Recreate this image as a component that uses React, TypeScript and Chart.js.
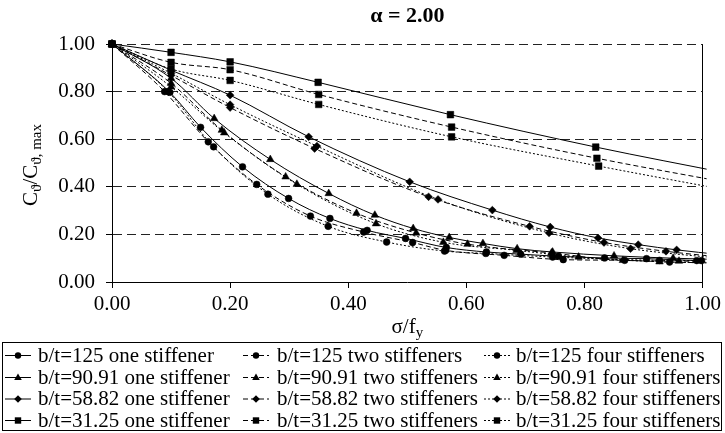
import React, { useEffect, useRef } from "react";
import { Chart, registerables } from "chart.js";

Chart.register(...registerables);

const FONT = '"Liberation Serif", "DejaVu Serif", "Times New Roman", serif';

const titleText = "α = 2.00";
const xMin = 0;
const xMax = 1;
const yMin = 0;
const yMax = 1;
const tickStep = 0.2;

// b/t = 125 (circles)
const x125One = [0, 0.098, 0.15, 0.221, 0.299, 0.369, 0.432, 0.497, 0.566, 0.634, 0.692, 0.756, 0.834, 0.905, 0.99];
const y125One = [1, 0.797, 0.65, 0.484, 0.351, 0.267, 0.217, 0.183, 0.145, 0.126, 0.117, 0.108, 0.101, 0.098, 0.09];
const x125Two = [0, 0.089, 0.163, 0.245, 0.336, 0.426, 0.509, 0.565, 0.664, 0.764, 0.868, 0.944, 1.02];
const y125Two = [1, 0.8, 0.589, 0.41, 0.277, 0.21, 0.166, 0.133, 0.112, 0.094, 0.091, 0.084, 0.08];
const x125Four = [0, 0.095, 0.172, 0.264, 0.366, 0.465, 0.563, 0.633, 0.746, 0.927, 0.998];
const y125Four = [1, 0.8, 0.568, 0.369, 0.234, 0.168, 0.13, 0.12, 0.105, 0.091, 0.09];

// b/t = 90.91 (triangles)
const x9091One = [0, 0.1, 0.173, 0.268, 0.367, 0.445, 0.51, 0.571, 0.628, 0.686, 0.746, 0.85, 0.95, 1.02];
const y9091One = [1, 0.856, 0.687, 0.515, 0.372, 0.281, 0.225, 0.187, 0.162, 0.14, 0.126, 0.11, 0.1, 0.095];
const x9091Two = [0, 0.1, 0.186, 0.294, 0.414, 0.515, 0.602, 0.744, 0.865, 0.96, 1.02];
const y9091Two = [1, 0.835, 0.638, 0.442, 0.289, 0.206, 0.159, 0.122, 0.091, 0.088, 0.085];
const x9091Four = [0, 0.1, 0.19, 0.313, 0.447, 0.561, 0.685, 0.79, 0.927, 1.02];
const y9091Four = [1, 0.82, 0.627, 0.411, 0.245, 0.167, 0.133, 0.105, 0.085, 0.08];

// b/t = 58.82 (diamonds)
const x5882One = [0, 0.1, 0.2, 0.333, 0.504, 0.644, 0.742, 0.823, 0.891, 0.956, 1.03];
const y5882One = [1, 0.89, 0.785, 0.61, 0.421, 0.302, 0.231, 0.185, 0.157, 0.135, 0.115];
const x5882Two = [0, 0.1, 0.2, 0.343, 0.536, 0.707, 0.833, 0.938, 1.05];
const y5882Two = [1, 0.868, 0.733, 0.561, 0.358, 0.234, 0.166, 0.129, 0.1];
const x5882Four = [0, 0.1, 0.2, 0.347, 0.552, 0.74, 0.878, 1.05];
const y5882Four = [1, 0.877, 0.745, 0.571, 0.347, 0.206, 0.14, 0.095];

// b/t = 31.25 (squares)
const x3125One = [0, 0.1, 0.2, 0.349, 0.573, 0.819, 1.05];
const y3125One = [1, 0.965, 0.925, 0.839, 0.703, 0.567, 0.453];
const x3125Two = [0, 0.1, 0.2, 0.35, 0.575, 0.821, 1.05];
const y3125Two = [1, 0.923, 0.892, 0.788, 0.651, 0.52, 0.414];
const x3125Four = [0, 0.1, 0.2, 0.35, 0.575, 0.824, 1.05];
const y3125Four = [1, 0.895, 0.847, 0.746, 0.61, 0.487, 0.382];

const seriesLabels = [
  "b/t=125 one stiffener", "b/t=125 two stiffeners", "b/t=125 four stiffeners",
  "b/t=90.91 one stiffener", "b/t=90.91 two stiffeners", "b/t=90.91 four stiffeners",
  "b/t=58.82 one stiffener", "b/t=58.82 two stiffeners", "b/t=58.82 four stiffeners",
  "b/t=31.25 one stiffener", "b/t=31.25 two stiffeners", "b/t=31.25 four stiffeners",
];
const seriesX = [x125One, x125Two, x125Four, x9091One, x9091Two, x9091Four, x5882One, x5882Two, x5882Four, x3125One, x3125Two, x3125Four];
const seriesY = [y125One, y125Two, y125Four, y9091One, y9091Two, y9091Four, y5882One, y5882Two, y5882Four, y3125One, y3125Two, y3125Four];

const markerStyles = ["circle", "triangle", "rectRot", "rect"];
const markerRadii = [3.4, 4.4, 3.9, 4.7];
const dashStyles: number[][] = [[], [5, 3], [2, 2]];

const yLabelParts = [
  { t: "C", sub: false },
  { t: "ϑ", sub: true },
  { t: "/C", sub: false },
  { t: "ϑ, max", sub: true },
];
const xLabelParts = [
  { t: "σ/f", sub: false },
  { t: "y", sub: true },
];

function drawRich(ctx: CanvasRenderingContext2D, parts: { t: string; sub: boolean }[], cx: number, cy: number, rot: number, size: number) {
  const big = `${size}px ${FONT}`;
  const small = `${Math.round(size * 0.7)}px ${FONT}`;
  let total = 0;
  const widths = parts.map((p) => {
    ctx.font = p.sub ? small : big;
    const w = ctx.measureText(p.t).width;
    total += w;
    return w;
  });
  ctx.save();
  ctx.translate(cx, cy);
  ctx.rotate(rot);
  ctx.textAlign = "left";
  ctx.textBaseline = "alphabetic";
  let x = -total / 2;
  parts.forEach((p, i) => {
    ctx.font = p.sub ? small : big;
    ctx.fillText(p.t, x, p.sub ? 11 : 7);
    x += widths[i];
  });
  ctx.restore();
}

function drawMarker(ctx: CanvasRenderingContext2D, style: string, x: number, y: number) {
  ctx.beginPath();
  if (style === "circle") {
    ctx.arc(x, y, 3.2, 0, Math.PI * 2);
  } else if (style === "triangle") {
    ctx.moveTo(x, y - 4);
    ctx.lineTo(x + 3.8, y + 2.6);
    ctx.lineTo(x - 3.8, y + 2.6);
    ctx.closePath();
  } else if (style === "rectRot") {
    ctx.moveTo(x, y - 3.8);
    ctx.lineTo(x + 3.8, y);
    ctx.lineTo(x, y + 3.8);
    ctx.lineTo(x - 3.8, y);
    ctx.closePath();
  } else {
    ctx.rect(x - 3.2, y - 3.2, 6.4, 6.4);
  }
  ctx.fill();
}

const legendColSample = [5, 243, 484];
const legendColText = [38, 277, 516];
const legendRowY = [355, 377, 398.5, 420];

const decorPlugin = {
  id: "decor",
  afterDraw(chart: any) {
    const { ctx, chartArea } = chart;
    const cx = (chartArea.left + chartArea.right) / 2;
    ctx.save();
    ctx.fillStyle = "#000";
    ctx.strokeStyle = "#000";
    // title
    ctx.font = `bold 22px ${FONT}`;
    ctx.textAlign = "center";
    ctx.textBaseline = "middle";
    ctx.fillText(titleText, cx, 16);
    // axis titles
    drawRich(ctx, yLabelParts, 30, (chartArea.top + chartArea.bottom) / 2 + 2, -Math.PI / 2, 21);
    drawRich(ctx, xLabelParts, cx, 326, 0, 21);
    // legend box
    ctx.lineWidth = 1;
    ctx.setLineDash([]);
    ctx.strokeRect(2.5, 342.5, 719, 88);
    ctx.font = `21px ${FONT}`;
    ctx.textAlign = "left";
    ctx.textBaseline = "middle";
    for (let i = 0; i < seriesLabels.length; i++) {
      const row = Math.floor(i / 3);
      const col = i % 3;
      const y = legendRowY[row];
      const sx = legendColSample[col];
      ctx.setLineDash(dashStyles[col]);
      ctx.beginPath();
      ctx.moveTo(sx, y + 0.5);
      ctx.lineTo(sx + 26, y + 0.5);
      ctx.stroke();
      ctx.setLineDash([]);
      drawMarker(ctx, markerStyles[row], sx + 13, y + 0.5);
      ctx.fillText(seriesLabels[i], legendColText[col], y + 1);
    }
    ctx.restore();
  },
};

export default function App() {
  const ref = useRef<HTMLCanvasElement>(null);
  useEffect(() => {
    const datasets = seriesLabels.map((label, i) => {
      const row = Math.floor(i / 3);
      const col = i % 3;
      return {
        label,
        data: seriesX[i].map((x, j) => ({ x, y: seriesY[i][j] })),
        showLine: true,
        borderColor: "#000",
        backgroundColor: "#000",
        borderWidth: 1,
        borderDash: dashStyles[col],
        pointStyle: markerStyles[row],
        pointRadius: markerRadii[row],
        pointBackgroundColor: "#000",
        pointBorderColor: "#000",
        pointBorderWidth: 0.5,
        cubicInterpolationMode: "monotone",
        clip: { left: 6, top: 6, right: 4, bottom: 6 },
      };
    });
    const chart = new Chart(ref.current as HTMLCanvasElement, {
      type: "scatter",
      data: { datasets } as any,
      plugins: [decorPlugin as any],
      options: {
        responsive: false,
        animation: false,
        devicePixelRatio: 1,
        layout: { padding: { top: 44, left: 0, right: 22, bottom: 0 } },
        plugins: {
          legend: { display: false },
          title: { display: false },
          tooltip: { enabled: false },
        },
        scales: {
          x: {
            type: "linear",
            min: xMin,
            max: xMax,
            afterFit: (s: any) => { s.height = 151; },
            ticks: {
              stepSize: tickStep,
              color: "#000",
              padding: 4,
              font: { family: FONT, size: 21 },
              callback: (v: any) => Number(v).toFixed(2),
            },
            grid: {
              color: (c: any) => (c.tick && Math.abs(c.tick.value - 1) < 1e-6 ? "#000" : "rgba(0,0,0,0)"),
              tickColor: "#000",
              tickLength: 6,
              lineWidth: 1,
            },
            border: { display: true, color: "#000", width: 1 },
          },
          y: {
            type: "linear",
            min: yMin,
            max: yMax,
            afterFit: (s: any) => { s.width = 112; },
            ticks: {
              stepSize: tickStep,
              color: "#000",
              padding: 11,
              font: { family: FONT, size: 21 },
              callback: (v: any) => Number(v).toFixed(2),
            },
            grid: {
              color: (c: any) => (c.tick && c.tick.value === 0 ? "rgba(0,0,0,0)" : "#222"),
              tickColor: "#000",
              tickLength: 6,
              lineWidth: 1,
            },
            border: { display: true, color: "#000", width: 1, dash: [9, 5] },
          },
        },
      } as any,
    });
    return () => chart.destroy();
  }, []);
  return (
    <div style={{ position: "absolute", left: 0, top: 0, width: 725, height: 433, background: "#fff" }}>
      <canvas ref={ref} width={725} height={433} style={{ display: "block", width: 725, height: 433 }} />
    </div>
  );
}
